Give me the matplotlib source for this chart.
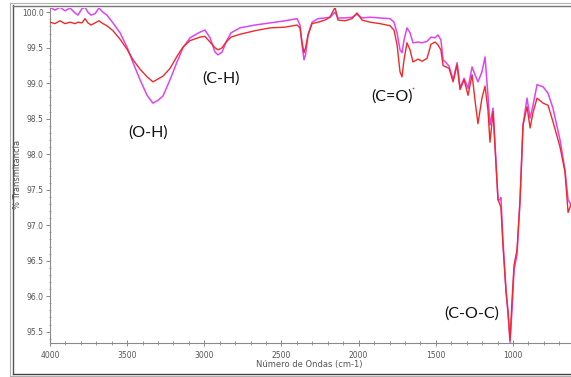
import matplotlib
matplotlib.use("Agg")
import matplotlib.pyplot as plt
from matplotlib.lines import Line2D
from matplotlib.ticker import MultipleLocator, FormatStrFormatter

# ---- data ----
wavenumber = [4000, 3968, 3935, 3903, 3870, 3838, 3819, 3793, 3773, 3754,
              3734, 3708, 3683, 3657, 3631, 3592, 3546, 3501, 3462, 3417,
              3371, 3333, 3300, 3268, 3222, 3177, 3138, 3093, 3028, 2996,
              2963, 2931, 2911, 2885, 2859, 2827, 2769, 2672, 2574, 2477,
              2399, 2380, 2367, 2354, 2344, 2328, 2302, 2263, 2218, 2186,
              2153, 2134, 2088, 2043, 2011, 1978, 1926, 1862, 1797, 1771,
              1751, 1732, 1719, 1706, 1687, 1667, 1648, 1615, 1589, 1557,
              1531, 1505, 1486, 1467, 1453, 1434, 1414, 1388, 1362, 1343,
              1317, 1291, 1265, 1246, 1227, 1201, 1181, 1162, 1149, 1129,
              1116, 1097, 1084, 1078, 1065, 1045, 1032, 1019, 1006, 993,
              974, 954, 935, 909, 889, 870, 844, 805, 773, 741,
              695, 663, 643, 624]

transm_magenta = [100.07, 100.03, 100.07, 100.02, 100.06, 99.99, 99.96, 100.05, 100.07, 100.00,
                  99.96, 99.98, 100.06, 100.00, 99.96, 99.85, 99.71, 99.51, 99.29, 99.05,
                  98.83, 98.72, 98.76, 98.82, 99.05, 99.30, 99.50, 99.64, 99.72, 99.75,
                  99.64, 99.44, 99.40, 99.44, 99.58, 99.71, 99.78, 99.82, 99.85, 99.88,
                  99.91, 99.82, 99.54, 99.33, 99.40, 99.68, 99.86, 99.91, 99.92, 99.93,
                  100.00, 99.92, 99.92, 99.93, 99.97, 99.92, 99.93, 99.92, 99.91, 99.86,
                  99.71, 99.47, 99.43, 99.61, 99.78, 99.71, 99.57, 99.58, 99.57, 99.59,
                  99.65, 99.64, 99.68, 99.61, 99.33, 99.29, 99.24, 99.05, 99.29, 98.93,
                  99.07, 98.93, 99.23, 99.12, 99.02, 99.16, 99.37, 98.83, 98.41, 98.65,
                  98.13, 97.36, 97.36, 97.39, 96.79, 96.09, 95.76, 95.35, 95.81, 96.37,
                  96.58, 97.36, 98.41, 98.79, 98.51, 98.69, 98.98, 98.95, 98.86, 98.65,
                  98.20, 97.78, 97.36, 97.29]

transm_red = [99.86, 99.84, 99.88, 99.84, 99.86, 99.84, 99.86, 99.85, 99.91, 99.85,
              99.82, 99.85, 99.88, 99.84, 99.81, 99.74, 99.62, 99.48, 99.33, 99.20,
              99.09, 99.02, 99.06, 99.10, 99.21, 99.38, 99.51, 99.60, 99.65, 99.66,
              99.58, 99.50, 99.47, 99.50, 99.58, 99.65, 99.69, 99.74, 99.78, 99.79,
              99.82, 99.78, 99.58, 99.43, 99.50, 99.68, 99.84, 99.86, 99.89, 99.93,
              100.07, 99.89, 99.88, 99.91, 99.99, 99.89, 99.86, 99.84, 99.81, 99.75,
              99.54, 99.16, 99.09, 99.33, 99.57, 99.47, 99.30, 99.34, 99.31, 99.35,
              99.55, 99.58, 99.54, 99.47, 99.25, 99.23, 99.21, 99.02, 99.26, 98.91,
              99.05, 98.83, 99.12, 98.76, 98.43, 98.79, 98.96, 98.62, 98.17, 98.60,
              98.09, 97.36, 97.29, 97.25, 96.72, 96.06, 95.78, 95.38, 95.95, 96.44,
              96.65, 97.36, 98.41, 98.67, 98.37, 98.59, 98.79, 98.72, 98.69, 98.46,
              98.10, 97.75, 97.18, 97.29]

band_labels = ["(O-H)", "(C-H)", "(C=O)", "(C-O-C)"]
band_wn = [3365, 2892, 1784, 1265]
band_t = [98.30, 99.07, 98.81, 95.76]

# small stray red dot next to the (C=O) label
dot_wn = [1648]
dot_t = [98.93]

x_label = "Número de Ondas (cm-1)"
y_label = "% Transmitancia"

# ---- figure ----
W, H = 571, 377
fig = plt.figure(figsize=(W / 100, H / 100), dpi=100)
fig.patch.set_facecolor("white")

ax = fig.add_axes([50 / W, (H - 342.7) / H, (W - 50) / W, (342.7 - 8) / H])
ax.set_xlim(4000, 624)
ax.set_ylim(95.345, 100.06)

ax.plot(wavenumber, transm_magenta, color="#DD44F5", lw=1.1, zorder=3)
ax.plot(wavenumber, transm_red, color="#EE2A2A", lw=1.0, zorder=4)
ax.plot(dot_wn, dot_t, ls="none", marker="o", ms=1.2, mew=0,
        color="#EE2A2A", zorder=4)

small = ["Liberation Sans Narrow", "DejaVu Sans"]
for s in ["top", "right"]:
    ax.spines[s].set_visible(False)
for s in ["left", "bottom"]:
    ax.spines[s].set_color("#8a8a8a")
    ax.spines[s].set_linewidth(0.8)

ax.xaxis.set_major_locator(MultipleLocator(500))
ax.xaxis.set_minor_locator(MultipleLocator(100))
ax.yaxis.set_major_locator(MultipleLocator(0.5))
ax.yaxis.set_minor_locator(MultipleLocator(0.1))
ax.yaxis.set_major_formatter(FormatStrFormatter("%.1f"))
ax.xaxis.set_major_formatter(FormatStrFormatter("%d"))

ax.tick_params(axis="x", which="major", direction="inout", length=4, width=0.7,
               color="#8a8a8a", labelsize=5.5, labelcolor="#555555", pad=4)
ax.tick_params(axis="x", which="minor", direction="inout", length=3, width=0.6,
               color="#8a8a8a")
ax.tick_params(axis="y", which="major", direction="out", length=3, width=0.7,
               color="#8a8a8a", labelsize=5.5, labelcolor="#555555", pad=1.5)
ax.tick_params(axis="y", which="minor", direction="inout", length=2, width=0.5,
               color="#8a8a8a")
for lab in ax.get_xticklabels() + ax.get_yticklabels():
    lab.set_family(small)

fig.text(309 / W, 1 - 365 / H, x_label, ha="center", va="center",
         fontsize=6, color="#555555", family=small)
fig.text(18 / W, 1 - 174 / H, y_label, ha="center", va="center", rotation=90,
         fontsize=6, color="#555555", family=small)

for lab, xw, yt in zip(band_labels, band_wn, band_t):
    ax.text(xw, yt, lab, ha="center", va="center", fontsize=11.5,
            color="#111111", family=["Lato", "DejaVu Sans"], zorder=5)

# ---- outer frame ----
def px_line(x0, y0, x1, y1, color, lw):
    fig.add_artist(Line2D([x0 / W, x1 / W], [1 - y0 / H, 1 - y1 / H],
                          transform=fig.transFigure, color=color, lw=lw))

px_line(10, 3, 10, 376, "#b0b0b0", 0.8)
px_line(12.5, 5, 12.5, 374, "#555555", 1.0)
px_line(10, 3, W, 3, "#b0b0b0", 0.8)
px_line(12.5, 5.5, W, 5.5, "#777777", 1.0)
px_line(10, 376, W, 376, "#b0b0b0", 0.8)
px_line(12.5, 374, W, 374, "#444444", 1.0)

fig.savefig("out.png", dpi=100)
